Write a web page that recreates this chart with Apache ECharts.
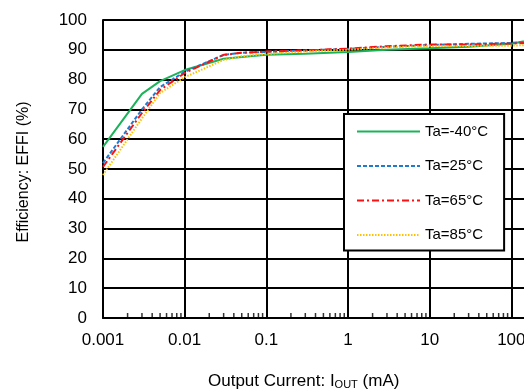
<!DOCTYPE html>
<html>
<head>
<meta charset="utf-8">
<script src="https://cdn.jsdelivr.net/npm/echarts@6/dist/echarts.min.js"></script>
<style>html,body{margin:0;padding:0;background:#fff}#c{width:524px;height:392px}</style>
</head>
<body>
<div id="c"></div>
<script>
const currents = [0.001, 0.003, 0.005, 0.01, 0.03, 0.05, 0.1, 0.3, 1, 3, 10, 30, 100, 200];
const effM40 = [57.4, 75.2, 79.5, 83.2, 87.0, 87.6, 88.3, 88.7, 89.3, 90.0, 90.5, 91.0, 92.0, 93.6];
const eff25  = [52.0, 70.0, 77.5, 82.6, 88.3, 89.0, 89.3, 89.8, 90.3, 91.0, 91.6, 92.0, 92.3, 92.8];
const eff65  = [50.7, 68.8, 76.5, 82.2, 88.3, 89.0, 89.4, 89.8, 90.4, 91.2, 91.8, 91.8, 92.1, 92.5];
const eff85  = [48.0, 67.0, 75.5, 80.8, 86.6, 87.8, 88.6, 89.4, 90.0, 90.8, 91.3, 91.3, 91.4, 91.7];
const seriesNames = ['Ta=-40°C', 'Ta=25°C', 'Ta=65°C', 'Ta=85°C'];
const xTickLabels = ['0.001', '0.01', '0.1', '1', '10', '100', '1000'];
const yTickLabels = ['0', '10', '20', '30', '40', '50', '60', '70', '80', '90', '100'];
const decades = [0.001, 0.01, 0.1, 1, 10, 100];
const minorMultipliers = [2, 3, 4, 5, 6, 7, 8, 9];

const minorTicks = [];
decades.forEach(d => minorMultipliers.forEach(m => minorTicks.push([d * m, 0])));

const pair = arr => currents.map((x, i) => [x, arr[i]]);
const font = 'Liberation Sans, Arial, sans-serif';

function lineSeries(name, data, color, type) {
  return {
    name, type: 'line', data: pair(data), symbol: 'none', smooth: false,
    lineStyle: { color, width: 2, type, cap: 'butt' },
    itemStyle: { color },
    emphasis: { disabled: true }, z: 3
  };
}

const chart = echarts.init(document.getElementById('c'), null, { renderer: 'canvas' });
chart.setOption({
  animation: false,
  backgroundColor: '#fff',
  grid: { left: 103, top: 20, height: 298, width: 490, containLabel: false, outerBoundsMode: 'none' },
  xAxis: {
    type: 'log', logBase: 10, min: 0.001, max: 1000,
    axisLine: { show: true, lineStyle: { color: '#000', width: 2 } },
    axisTick: { show: false },
    splitLine: { show: true, lineStyle: { color: '#000', width: 2 } },
    axisLabel: {
      color: '#000', fontSize: 17, fontFamily: font, margin: 14,
      formatter: v => {
        const i = Math.round(Math.log10(v) + 3);
        return xTickLabels[i] !== undefined ? xTickLabels[i] : '';
      }
    }
  },
  yAxis: {
    type: 'value', min: 0, max: 100, interval: 10,
    axisLine: { show: true, lineStyle: { color: '#000', width: 2 } },
    axisTick: { show: false },
    splitLine: { show: true, lineStyle: { color: '#000', width: 2 } },
    axisLabel: {
      color: '#000', fontSize: 17, fontFamily: font, margin: 16,
      formatter: v => yTickLabels[Math.round(v / 10)]
    }
  },
  legend: {
    data: seriesNames,
    orient: 'vertical',
    left: 344, top: 114,
    padding: [10, 16, 8, 12],
    itemWidth: 63, itemHeight: 14, itemGap: 19.5,
    backgroundColor: '#fff',
    borderColor: '#000', borderWidth: 2, borderRadius: 0,
    itemStyle: { opacity: 0 },
    textStyle: { color: '#000', fontSize: 15, fontFamily: font },
    selectedMode: false
  },
  series: [
    lineSeries(seriesNames[0], effM40, '#1BB35A', 'solid'),
    lineSeries(seriesNames[1], eff25, '#1F7BD0', [4, 2]),
    lineSeries(seriesNames[2], eff65, '#FF1010', [7, 3, 2, 3]),
    lineSeries(seriesNames[3], eff85, '#FFC000', [1.5, 1.5]),
    {
      type: 'scatter', data: minorTicks, symbol: 'rect', symbolSize: [1.5, 5],
      symbolOffset: [0, -2.5], itemStyle: { color: '#000' }, silent: true, z: 4,
      emphasis: { disabled: true }
    }
  ],
  graphic: [
    {
      type: 'text', rotation: Math.PI / 2, x: 24, y: 172,
      style: { text: 'Efficiency: EFFI (%)', fill: '#000', fontSize: 16, fontFamily: font, align: 'center', verticalAlign: 'middle' }
    },
    {
      type: 'text', x: 208, y: 381,
      style: {
        text: '{a|Output Current: I}{s|OUT}{a| (mA)}',
        verticalAlign: 'middle',
        rich: {
          a: { fontSize: 17, fontFamily: font, fill: '#000', color: '#000' },
          s: { fontSize: 11, fontFamily: font, color: '#000', padding: [8, 0, 0, 0] }
        }
      }
    }
  ]
});
</script>
</body>
</html>
